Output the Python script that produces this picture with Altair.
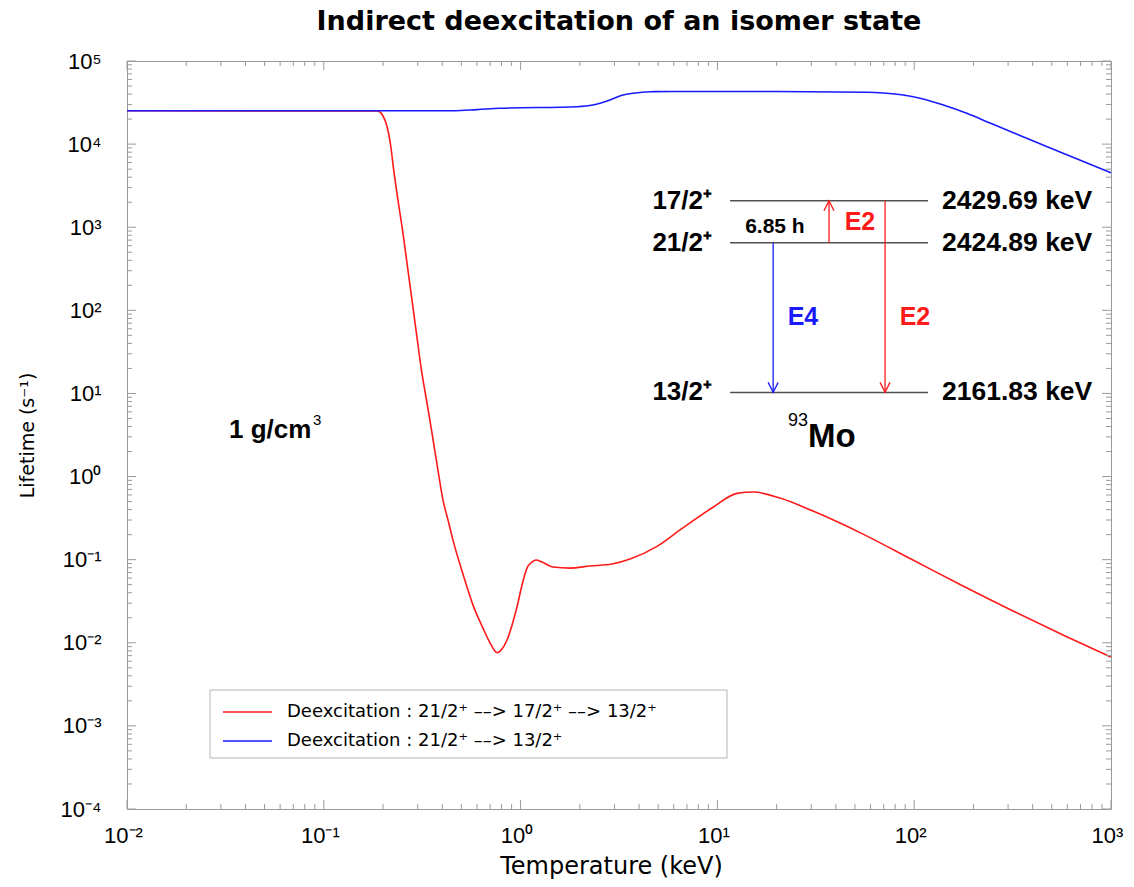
import altair as alt
import pandas as pd

# Lifetime of the 21/2+ isomer of 93Mo versus plasma temperature (1 g/cm3)
# Indirect path 21/2+ -> 17/2+ -> 13/2+
temp_indirect = [0.010, 0.186, 0.1931, 0.1999, 0.2071, 0.2132, 0.2196, 0.2254, 0.2382, 0.2525,
                 0.2662, 0.2806, 0.2958, 0.3118, 0.3324, 0.3547, 0.3781, 0.4034, 0.4277, 0.4533,
                 0.5095, 0.5729, 0.644, 0.699, 0.759, 0.8045, 0.853, 0.9044, 0.9587, 1.0165,
                 1.078, 1.143, 1.198, 1.284, 1.461, 1.782, 2.253, 2.913, 3.597, 4.933,
                 6.457, 9.50, 12.58, 15.23, 20.80, 30.61, 54.94, 98.6, 177.0, 317.7,
                 570.4, 1000]
life_indirect = [25200, 25000, 24340, 21790, 17950, 13610, 8980, 5346, 2123, 851,
                 336, 133, 52.6, 20.8, 8.34, 3.33, 1.30, 0.521, 0.300, 0.172,
                 0.0671, 0.0284, 0.0150, 0.0100, 0.0076, 0.0084, 0.0108, 0.0163, 0.0269, 0.0495,
                 0.0792, 0.0935, 0.0989, 0.0935, 0.0815, 0.0792, 0.0838, 0.0885, 0.1017, 0.1447,
                 0.2277, 0.427, 0.628, 0.651, 0.551, 0.384, 0.203, 0.0989, 0.0481, 0.0241,
                 0.0124, 0.00673]

# Direct E4 path 21/2+ -> 13/2+
temp_direct = [0.010, 0.4533, 0.60, 0.786, 1.934, 2.333, 2.846, 3.314, 3.725, 4.545,
               6.0, 20.0, 57.5, 69.7, 88.1, 111.2, 140.6, 184.9, 242.7, 318.9,
               509.2, 1000]
life_direct = [25200, 25200, 26000, 27000, 28200, 29500, 33900, 39000, 40900, 42700,
               42900, 42900, 42000, 41200, 39000, 34900, 29500, 23500, 17950, 13700,
               8660, 4530]

legend_labels = ["Deexcitation : 21/2⁺ ––> 17/2⁺ ––> 13/2⁺",
                 "Deexcitation : 21/2⁺ ––> 13/2⁺"]

# Level scheme drawn inside the plot (keV on x, s on y)
level_spins = ["17/2⁺", "21/2⁺", "13/2⁺"]
level_energies = ["2429.69 keV", "2424.89 keV", "2161.83 keV"]
level_tau = [2084, 650, 10.3]

x_decades = [0.01, 0.1, 1, 10, 100, 1000]
y_decades = [1e-4, 1e-3, 1e-2, 1e-1, 1, 10, 100, 1e3, 1e4, 1e5]
x_minor = [m * d for d in x_decades[:-1] for m in range(2, 10)]
y_minor = [m * d for d in y_decades[:-1] for m in range(2, 10)]

RED = "#ff1a1a"
BLUE = "#1a1aff"
GRAY = "#9a9a9a"
FONT = "Liberation Sans"
WIDE = "DejaVu Sans"
W, H = 984, 748

x_scale = alt.Scale(type="log", domain=[0.01, 1000], nice=False)
y_scale = alt.Scale(type="log", domain=[1e-4, 1e5], nice=False)

sup = "['⁻⁴','⁻³','⁻²','⁻¹','⁰','¹','²','³','⁴','⁵']"
label_expr = "'10' + " + sup + "[round(log(datum.value) / LN10) + 4]"

x_axis = alt.Axis(values=x_decades, labelExpr=label_expr, ticks=False, domain=False,
                  grid=False, labelFont=FONT, labelFontSize=22, labelColor="black",
                  labelPadding=16, labelFlush=False, labelOverlap=False, labelOffset=-4,
                  title="Temperature (keV)", titleFont=WIDE, titleFontSize=24,
                  titleFontWeight="normal", titleColor="black", titleX=484, titleY=57,
                  titleAlign="center", titleBaseline="middle")
y_axis = alt.Axis(values=y_decades, labelExpr=label_expr, ticks=False, domain=False,
                  grid=False, labelFont=FONT, labelFontSize=22, labelColor="black",
                  labelPadding=26, labelFlush=False, labelOverlap=False,
                  title="Lifetime (s⁻¹)", titleFont=WIDE, titleFontSize=19,
                  titleFontWeight="normal", titleColor="black", titleX=-100, titleY=374,
                  titleAngle=270, titleAlign="center", titleBaseline="middle")


def X(field="T"):
    return alt.X(f"{field}:Q", scale=x_scale, axis=x_axis)


def Y(field="tau"):
    return alt.Y(f"{field}:Q", scale=y_scale, axis=y_axis)


df_ind = pd.DataFrame({"T": temp_indirect, "tau": life_indirect})
df_dir = pd.DataFrame({"T": temp_direct, "tau": life_direct})

red_line = alt.Chart(df_ind).mark_line(color=RED, strokeWidth=1.6, interpolate="monotone").encode(x=X(), y=Y())
blue_line = alt.Chart(df_dir).mark_line(color=BLUE, strokeWidth=1.6, interpolate="monotone").encode(x=X(), y=Y())


# inward ticks on all four sides of the frame
def x_ticks(vals, length, top):
    y0, y1 = (0, length) if top else (H, H - length)
    return alt.Chart(pd.DataFrame({"T": vals})).mark_rule(color=GRAY, strokeWidth=1).encode(
        x=X(), y=alt.value(y0), y2=alt.value(y1))


def y_ticks(vals, length, right):
    x0, x1 = (W, W - length) if right else (0, length)
    return alt.Chart(pd.DataFrame({"tau": vals})).mark_rule(color=GRAY, strokeWidth=1).encode(
        y=Y(), x=alt.value(x0), x2=alt.value(x1))


ticks = [x_ticks(x_decades, 9, False), x_ticks(x_minor, 5, False),
         x_ticks(x_decades, 9, True), x_ticks(x_minor, 5, True),
         y_ticks(y_decades, 9, False), y_ticks(y_minor, 5, False),
         y_ticks(y_decades, 9, True), y_ticks(y_minor, 5, True)]

# level scheme
levels = pd.DataFrame({"T": [11.6] * 3, "T2": [117.5] * 3, "tau": level_tau,
                       "spin": level_spins, "energy": level_energies})
level_lines = alt.Chart(levels).mark_rule(color="#505050", strokeWidth=1.5).encode(
    x=X(), x2="T2:Q", y=Y())
spin_text = alt.Chart(levels.assign(T=9.39)).mark_text(
    font=FONT, fontWeight="bold", fontSize=26, align="right", baseline="middle", color="black"
).encode(x=X(), y=Y(), text="spin:N")
energy_text = alt.Chart(levels.assign(T=138.4)).mark_text(
    font=FONT, fontWeight="bold", fontSize=26.5, align="left", baseline="middle", color="black"
).encode(x=X(), y=Y(), text="energy:N")

arrows = pd.DataFrame({"T": [19.2, 36.9, 71.1], "tau": [650, 650, 2084],
                       "tau2": [10.3, 2084, 10.3], "c": [BLUE, RED, RED]})
arrow_lines = alt.Chart(arrows).mark_rule(strokeWidth=1.3).encode(
    x=X(), y=Y(), y2="tau2:Q", color=alt.Color("c:N", scale=None))
heads_down = alt.Chart(arrows.iloc[[0, 2]].assign(tau=[10.3, 10.3])).mark_point(
    shape="M-1,-2L0,0L1,-2", filled=False, size=100, strokeWidth=1.3, opacity=1
).encode(x=X(), y=Y(), color=alt.Color("c:N", scale=None))
heads_up = alt.Chart(arrows.iloc[[1]].assign(tau=[2084])).mark_point(
    shape="M-1,2L0,0L1,2", filled=False, size=100, strokeWidth=1.3, opacity=1
).encode(x=X(), y=Y(), color=alt.Color("c:N", scale=None))

multipoles = pd.DataFrame({"T": [53.0, 27.2, 100.9], "tau": [1156, 83, 83],
                           "lab": ["E2", "E4", "E2"], "c": [RED, BLUE, RED]})
multipole_text = alt.Chart(multipoles).mark_text(
    font=FONT, fontWeight="bold", fontSize=25, align="center", baseline="middle"
).encode(x=X(), y=Y(), text="lab:N", color=alt.Color("c:N", scale=None))

half_life = alt.Chart(pd.DataFrame({"T": [19.6], "tau": [1005], "lab": ["6.85 h"]})).mark_text(
    font=FONT, fontWeight="bold", fontSize=21, align="center", baseline="middle", color="black"
).encode(x=X(), y=Y(), text="lab:N")

nucleus = alt.Chart(pd.DataFrame({"T": [38.2], "tau": [2.99], "lab": ["Mo"]})).mark_text(
    font=FONT, fontWeight="bold", fontSize=33, align="center", baseline="middle", color="black"
).encode(x=X(), y=Y(), text="lab:N")
mass = alt.Chart(pd.DataFrame({"T": [25.7], "tau": [4.65], "lab": ["93"]})).mark_text(
    font=FONT, fontSize=18, align="center", baseline="middle", color="black"
).encode(x=X(), y=Y(), text="lab:N")

density = alt.Chart(pd.DataFrame({"T": [0.033], "tau": [3.63], "lab": ["1 g/cm"]})).mark_text(
    font=FONT, fontWeight="bold", fontSize=26, align="left", baseline="middle", color="black"
).encode(x=X(), y=Y(), text="lab:N")
density_exp = alt.Chart(pd.DataFrame({"T": [0.0881], "tau": [4.79], "lab": ["3"]})).mark_text(
    font=FONT, fontSize=15, align="left", baseline="middle", color="black"
).encode(x=X(), y=Y(), text="lab:N")

# title
title = alt.Chart(pd.DataFrame({"t": ["Indirect deexcitation of an isomer state"]})).mark_text(
    font=WIDE, fontWeight="bold", fontSize=27, align="center", baseline="middle", color="black"
).encode(text="t:N", x=alt.value(W / 2), y=alt.value(-39))

# legend box
one = pd.DataFrame({"a": [0]})
legend_box = alt.Chart(one).mark_rect(fill="white", stroke="#b4b4b4", strokeWidth=1).encode(
    x=alt.value(83), x2=alt.value(600), y=alt.value(629), y2=alt.value(697))
legend_parts = [legend_box]
for lab, col, yy in zip(legend_labels, [RED, BLUE], [651, 680]):
    legend_parts.append(alt.Chart(one).mark_rule(color=col, strokeWidth=1.6).encode(
        x=alt.value(96), x2=alt.value(145), y=alt.value(yy)))
    legend_parts.append(alt.Chart(pd.DataFrame({"lab": [lab]})).mark_text(
        font=WIDE, fontSize=18, align="left", baseline="middle", color="black"
    ).encode(text="lab:N", x=alt.value(160), y=alt.value(yy)))

chart = alt.layer(
    red_line, blue_line, *ticks, level_lines, arrow_lines, heads_down, heads_up,
    spin_text, energy_text, multipole_text, half_life, nucleus, mass,
    density, density_exp, title, *legend_parts
).properties(
    width=W, height=H,
    padding={"left": 127, "top": 61, "right": 23, "bottom": 78},
    autosize=alt.AutoSizeParams(type="none"),
    background="white",
).configure_view(stroke=GRAY, strokeWidth=1)

chart.save("out.html", embed_options={"renderer": "svg", "actions": False})
